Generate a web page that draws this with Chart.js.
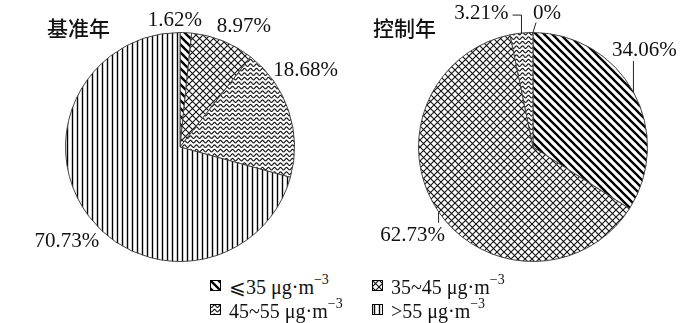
<!DOCTYPE html>
<html>
<head>
<meta charset="utf-8">
<script src="https://cdn.jsdelivr.net/npm/chart.js@4.4.1/dist/chart.umd.min.js"></script>
<style>
  body { margin: 0; background: #fff; }
  #wrap { position: relative; width: 700px; height: 323px; overflow: hidden; }
  canvas.pie { position: absolute; top: 0; }
  .title { position: absolute; font-family: "Noto Sans CJK SC", sans-serif; font-size: 21px; font-weight: 500; color: #111; line-height: 1; }
  .legend-item { position: absolute; font-family: "Liberation Serif", serif; font-size: 20px; color: #111; line-height: 1; white-space: nowrap; display: flex; align-items: center; }
  .legend-item canvas { margin-right: 8px; }
  .legend-item sup { font-size: 14px; position: relative; top: -2px; }
</style>
</head>
<body>
<div id="wrap">
  <canvas id="baseChart" class="pie" width="350" height="265" style="left:0"></canvas>
  <canvas id="controlChart" class="pie" width="350" height="265" style="left:350px"></canvas>
  <div class="title" style="left:47px;top:17px">基准年</div>
  <div class="title" style="left:373px;top:17px">控制年</div>
</div>
<script>
// categories and values
const categories = ["⩽35", "35~45", "45~55", ">55"];
const baseYearValues = [1.62, 8.97, 18.68, 70.73];
const controlYearValues = [34.06, 62.73, 3.21, 0];
const patternKinds = ["diag", "cross", "wave", "vert"];

function makeTile(kind) {
  const c = document.createElement("canvas");
  const ctx = c.getContext("2d");
  if (kind === "diag") {
    c.width = 8; c.height = 8;
    ctx.fillStyle = "#fff"; ctx.fillRect(0, 0, 8, 8);
    ctx.strokeStyle = "#000"; ctx.lineWidth = 2.3;
    ctx.beginPath();
    ctx.moveTo(-2, -2); ctx.lineTo(10, 10);
    ctx.moveTo(-2, 6); ctx.lineTo(2, 10);
    ctx.moveTo(6, -2); ctx.lineTo(10, 2);
    ctx.stroke();
  } else if (kind === "cross") {
    c.width = 7; c.height = 7;
    ctx.fillStyle = "#fff"; ctx.fillRect(0, 0, 7, 7);
    ctx.strokeStyle = "#111"; ctx.lineWidth = 1.1;
    ctx.beginPath();
    ctx.moveTo(-1, -1); ctx.lineTo(8, 8);
    ctx.moveTo(-1, 8); ctx.lineTo(8, -1);
    ctx.stroke();
  } else if (kind === "wave") {
    c.width = 6; c.height = 9;
    ctx.fillStyle = "#fff"; ctx.fillRect(0, 0, 6, 9);
    ctx.strokeStyle = "#111"; ctx.lineWidth = 1.1;
    [2.2, 6.7].forEach((y0) => {
      ctx.beginPath();
      for (let x = -1; x <= 7; x += 0.5) {
        const y = y0 + 1.3 * Math.sin((2 * Math.PI * x) / 6);
        if (x === -1) ctx.moveTo(x, y); else ctx.lineTo(x, y);
      }
      ctx.stroke();
    });
  } else {
    c.width = 5; c.height = 5;
    ctx.fillStyle = "#fff"; ctx.fillRect(0, 0, 5, 5);
    ctx.strokeStyle = "#000"; ctx.lineWidth = 1.4;
    ctx.beginPath();
    ctx.moveTo(2.5, -1); ctx.lineTo(2.5, 6);
    ctx.stroke();
  }
  return c;
}

const probe = document.createElement("canvas").getContext("2d");
const patterns = patternKinds.map((k) => probe.createPattern(makeTile(k), "repeat"));

// value labels placed relative to the slice's outer edge at mid-angle
const pieLabels = {
  id: "pieLabels",
  afterDatasetsDraw(chart, args, opts) {
    const ctx = chart.ctx;
    const meta = chart.getDatasetMeta(0);
    const values = chart.data.datasets[0].data;
    ctx.save();
    ctx.font = '21px "Liberation Serif", serif';
    ctx.fillStyle = "#111";
    ctx.strokeStyle = "#222";
    ctx.lineWidth = 1;
    ctx.textAlign = "center";
    ctx.textBaseline = "middle";
    meta.data.forEach((arc, i) => {
      const { x, y, startAngle, endAngle, outerRadius } = arc.getProps(
        ["x", "y", "startAngle", "endAngle", "outerRadius"], true);
      const mid = (startAngle + endAngle) / 2;
      const ax = x + Math.cos(mid) * outerRadius;
      const ay = y + Math.sin(mid) * outerRadius;
      const [dx, dy] = opts.offsets[i];
      const lx = ax + dx;
      const ly = ay + dy;
      const text = values[i] + "%";
      ctx.fillText(text, lx, ly);
      const leader = opts.leaders ? opts.leaders[i] : null;
      if (leader) {
        const w = ctx.measureText(text).width;
        ctx.beginPath();
        ctx.moveTo(ax, ay);
        if (leader === "up") {
          ctx.lineTo(ax, ly + 11);
        } else if (leader === "down") {
          ctx.lineTo(ax, ly - 13);
        } else if (leader === "elbow") {
          ctx.lineTo(ax, ly + 2);
          ctx.lineTo(lx + w / 2 + 4, ly + 2);
        } else if (leader === "diag") {
          ctx.lineTo(lx - w / 2 + 3, ly + 9);
        }
        ctx.stroke();
      }
    });
    ctx.restore();
  },
};

function makePie(canvasId, values, padding, labelOpts) {
  return new Chart(document.getElementById(canvasId), {
    type: "pie",
    data: {
      labels: categories,
      datasets: [{
        data: values,
        backgroundColor: patterns,
        borderColor: "#444",
        borderWidth: 1,
      }],
    },
    options: {
      responsive: false,
      animation: false,
      events: [],
      layout: { padding },
      plugins: {
        legend: { display: false },
        tooltip: { enabled: false },
        pieLabels: labelOpts,
      },
    },
    plugins: [pieLabels],
  });
}

makePie("baseChart", baseYearValues,
  { left: 65, right: 55, top: 32, bottom: 3 },
  { offsets: [[-11, -12], [21, -14], [17, -41], [-22, 25]] });

makePie("controlChart", controlYearValues,
  { left: 68, right: 52, top: 32, bottom: 3 },
  {
    offsets: [[11, -42], [-26, 24], [-40, -20], [14, -19]],
    leaders: ["up", "down", "elbow", "diag"],
  });

// legend built from the same categories and patterns
const wrap = document.getElementById("wrap");
const legendPos = [[210, 275], [372, 275], [210, 299], [372, 299]];
categories.forEach((cat, i) => {
  const item = document.createElement("div");
  item.className = "legend-item";
  item.style.left = legendPos[i][0] + "px";
  item.style.top = legendPos[i][1] + "px";
  const sw = document.createElement("canvas");
  sw.width = 11; sw.height = 11;
  const sctx = sw.getContext("2d");
  sctx.fillStyle = patterns[i];
  sctx.fillRect(0, 0, 11, 11);
  sctx.strokeStyle = "#000";
  sctx.lineWidth = 1;
  sctx.strokeRect(0.5, 0.5, 10, 10);
  item.appendChild(sw);
  const span = document.createElement("span");
  span.innerHTML = cat + " μg·m<sup>−3</sup>";
  item.appendChild(span);
  wrap.appendChild(item);
});
</script>
</body>
</html>
